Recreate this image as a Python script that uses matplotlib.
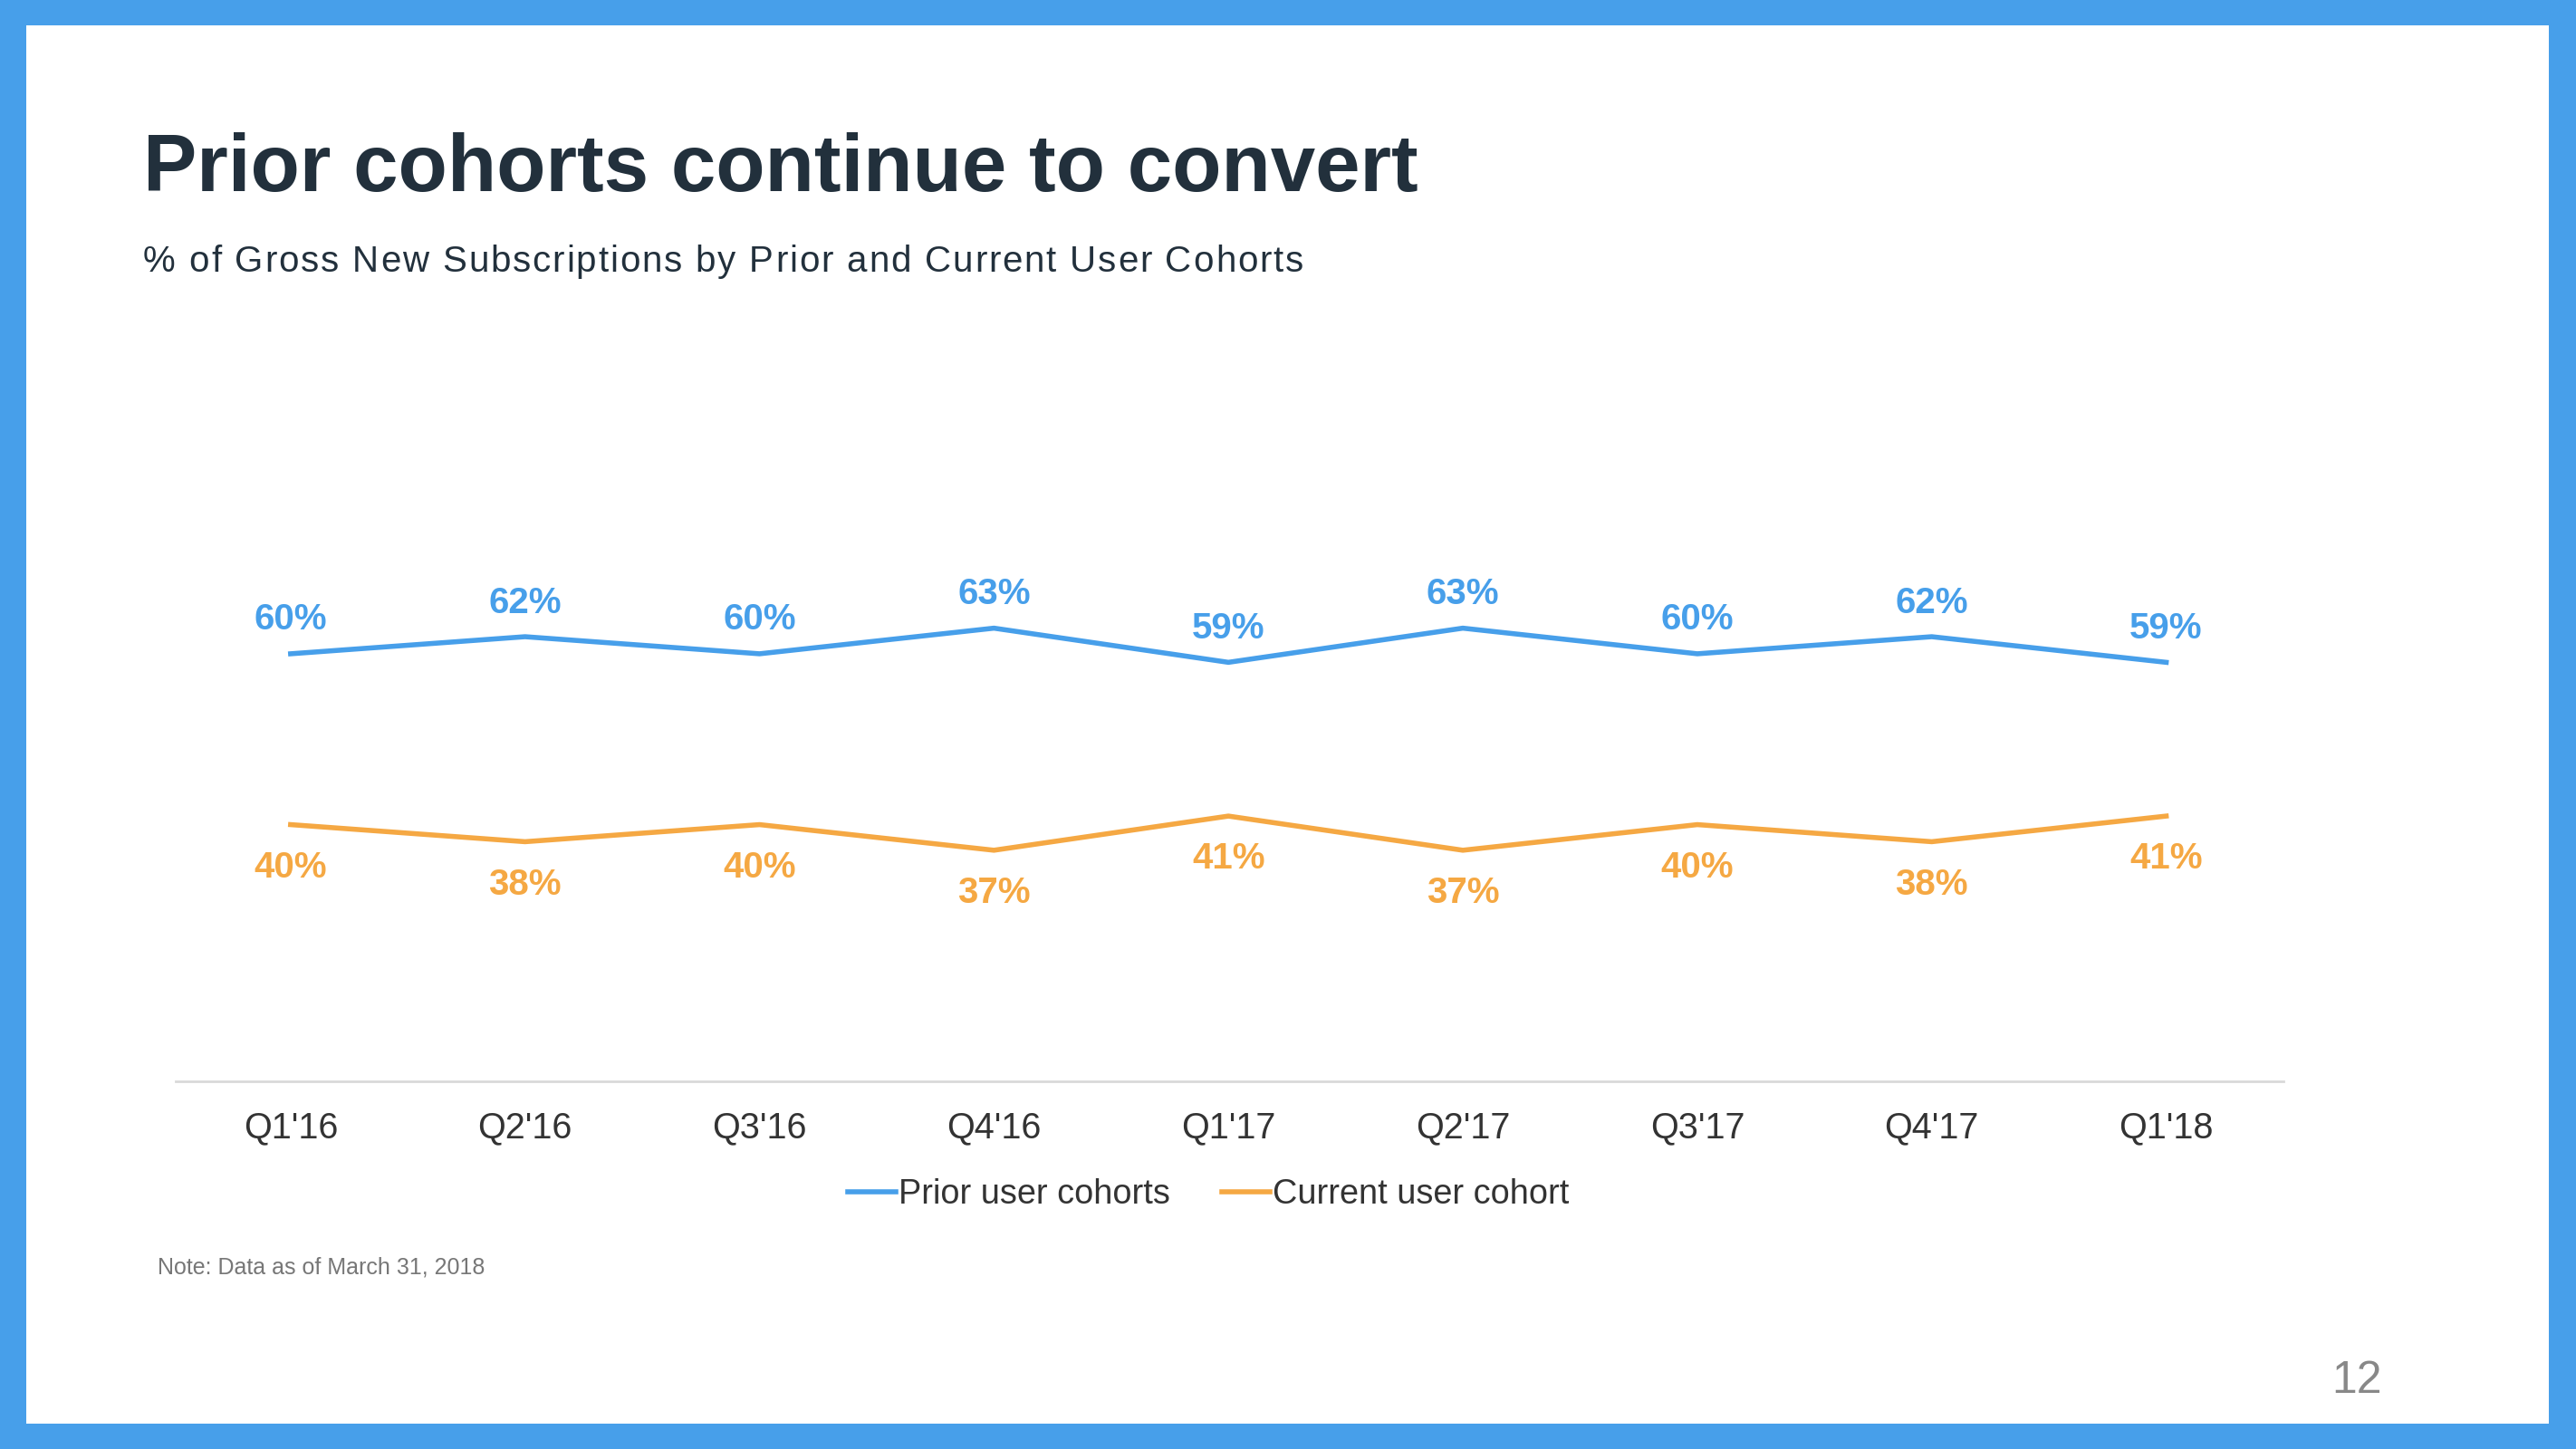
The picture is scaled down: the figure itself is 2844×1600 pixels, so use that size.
import matplotlib
matplotlib.use("Agg")
import matplotlib.pyplot as plt
from matplotlib.patches import Rectangle

# data
quarters = ["Q1'16", "Q2'16", "Q3'16", "Q4'16", "Q1'17", "Q2'17", "Q3'17", "Q4'17", "Q1'18"]
prior = [60, 62, 60, 63, 59, 63, 60, 62, 59]
current = [40, 38, 40, 37, 41, 37, 40, 38, 41]

BLUE = '#479FEA'
ORANGE = '#F5A843'
NAVY = '#22303C'

W, H = 2844, 1600
fig = plt.figure(figsize=(W / 100, H / 100), dpi=100)
fig.patch.set_facecolor(BLUE)
plt.rcParams['font.family'] = ['Liberation Sans', 'DejaVu Sans']

# white slide area inside the blue frame
fig.patches.append(Rectangle((29 / W, 28 / H), (2814 - 29) / W, (1572 - 28) / H,
                             transform=fig.transFigure, facecolor='white',
                             edgecolor='none', zorder=-10))

fig.text(158 / W, 1 - 211 / H, 'Prior cohorts continue to convert',
         fontsize=64, fontweight='bold', color=NAVY, va='baseline', ha='left')

# subtitle with letter spacing, placed char by char
subtitle = '% of Gross New Subscriptions by Prior and Current User Cohorts'
renderer = fig.canvas.get_renderer()
x0, x1 = 158, 1439
probe = fig.text(0, 0, subtitle, fontsize=29)
full_w = probe.get_window_extent(renderer).width
probe.remove()
track = (x1 - x0 - full_w) / (len(subtitle) - 1)
for i, ch in enumerate(subtitle):
    if i > 0:
        p = fig.text(0, 0, subtitle[:i] + 'x', fontsize=29)
        px = fig.text(0, 0, 'x', fontsize=29)
        off = p.get_window_extent(renderer).width - px.get_window_extent(renderer).width
        p.remove()
        px.remove()
    else:
        off = 0
    fig.text((x0 + off + i * track) / W, 1 - 300 / H, ch, fontsize=29, color=NAVY,
             va='baseline', ha='left')

ax = fig.add_axes([194 / W, 1 - 1193.5 / H, (2521 - 194) / W, (1193.5 - 627.6) / H])
ax.set_facecolor('none')
x = list(range(len(quarters)))
ax.plot(x, prior, color=BLUE, lw=4, label='Prior user cohorts')
ax.plot(x, current, color=ORANGE, lw=4, label='Current user cohort')

for i, v in enumerate(prior):
    ax.annotate(f'{v}%', (i, v), xytext=(0, 27), textcoords='offset points',
                ha='center', va='center', fontsize=29, fontweight='bold', color=BLUE)
for i, v in enumerate(current):
    ax.annotate(f'{v}%', (i, v), xytext=(0, -34), textcoords='offset points',
                ha='center', va='center', fontsize=29, fontweight='bold', color=ORANGE)

ax.set_xlim(-0.49, 8.5)
ax.set_ylim(10, 70)
ax.set_xticks(x)
ax.set_xticklabels(quarters, fontsize=28.5, color='#333333')
ax.set_yticks([])
ax.tick_params(axis='x', length=0, pad=24)
for s in ['top', 'right', 'left']:
    ax.spines[s].set_visible(False)
ax.spines['bottom'].set_color('#D9D9D9')
ax.spines['bottom'].set_linewidth(2)

leg = ax.legend(loc='center', bbox_to_anchor=((1334 - 194) / (2521 - 194),
                                               (1193.5 - 1319) / (1193.5 - 627.6)),
                ncol=2, frameon=False, fontsize=27.3, handlelength=1.4,
                handletextpad=0.08, columnspacing=1.5, borderaxespad=0)
for t in leg.get_texts():
    t.set_color('#333333')

fig.text(174 / W, 1 - 1400 / H, 'Note: Data as of March 31, 2018',
         fontsize=18, color='#777777', va='center', ha='left')
fig.text(2602 / W, 1 - 1525 / H, '12', fontsize=36, color='#888888',
         va='center', ha='center')

fig.savefig('out.png', dpi=100, facecolor=fig.get_facecolor())
